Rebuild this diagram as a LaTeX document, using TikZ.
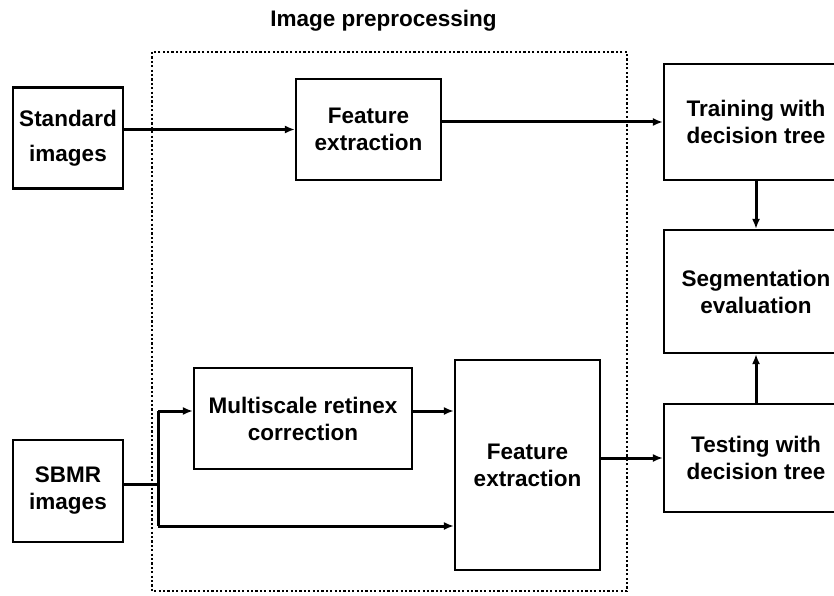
\documentclass[tikz,border=0pt]{standalone}
\usepackage{fontspec}
\setmainfont{Liberation Sans}
\usetikzlibrary{arrows.meta, positioning}

\begin{document}
\begin{tikzpicture}[x=1pt, y=-1pt,
  block/.style={draw, line width=2.2pt, align=center, inner sep=0pt,
    font=\fontsize{22.5}{27}\selectfont\bfseries},
  flow/.style={line width=3pt, -{Latex[length=10pt,width=8pt]}},
  wire/.style={line width=3pt},
  stagebox/.style={line width=2.6pt, dash pattern=on 2.2pt off 2.2pt}]
\useasboundingbox (0,0) rectangle (834,596);
\clip (0,0) rectangle (834,596);
% preprocessing frame
\draw[stagebox] (152,52) rectangle (627,591);
\node[anchor=base, font=\fontsize{22.5}{27}\selectfont\bfseries] (title) at (383.5,27) {Image preprocessing};
% inputs
\node[block, minimum width=110pt, minimum height=101pt] (std) at (68,138) {Standard\\[8pt]images};
\node[block, minimum width=110pt, minimum height=102pt] (sbmr) at (68,491) {SBMR\\images};
% inside the frame
\node[block, minimum width=145pt, minimum height=101pt] (fe1) at (368.5,129.5) {Feature\\extraction};
\node[block, minimum width=218pt, minimum height=101pt] (msr) at (303,418.5) {Multiscale retinex\\correction};
\node[block, minimum width=145pt, minimum height=210pt] (fe2) at (527.5,465) {Feature\\extraction};
% decision tree
\node[block, minimum width=184pt, minimum height=116pt] (train) at (756,122) {Training with\\decision tree};
\node[block, minimum width=184pt, minimum height=123pt] (seg) at (756,291.5) {Segmentation\\evaluation};
\node[block, minimum width=184pt, minimum height=108pt] (test) at (756,458) {Testing with\\decision tree};
% split point
\coordinate (split) at (158,484);
\coordinate (up) at (158,411);
\coordinate (down) at (158,526);
\draw[flow] (std.east |- fe1.west) -- (fe1.west);
\draw[flow] (fe1.east |- train.west) -- (train.west);
\draw[flow] (train.south) -- (seg.north);
\draw[flow] (test.north) -- (seg.south);
\draw[flow] (fe2.east |- test.west) -- (test.west);
\draw[wire] (sbmr.east |- split) -- (split);
\draw[wire] (up) -- (down);
\draw[flow] (up) -- (msr.west |- up);
\draw[flow] (down) -- (fe2.west |- down);
\draw[flow] (msr.east |- up) -- (fe2.west |- up);
\end{tikzpicture}
\end{document}
